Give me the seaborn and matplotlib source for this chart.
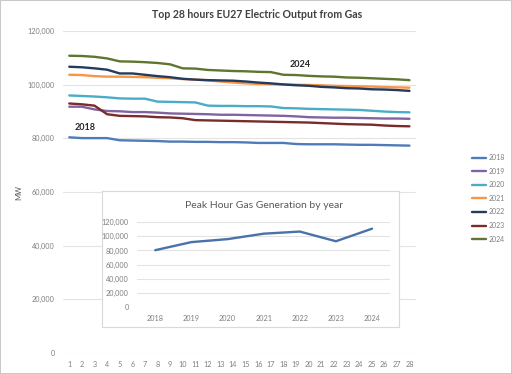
import pandas as pd
import matplotlib.pyplot as plt
import seaborn as sns

# hourly rank (top 28 hours) and output per year, MW
hours = list(range(1, 29))
years = ["2018", "2019", "2020", "2021", "2022", "2023", "2024"]

mw_2018 = [80400, 80100, 80100, 80100, 79300, 79200, 79100, 79000, 78800, 78800,
           78700, 78700, 78600, 78600, 78500, 78300, 78300, 78300, 77900, 77800,
           77800, 77800, 77700, 77600, 77600, 77500, 77400, 77300]
mw_2019 = [91800, 91800, 90800, 90200, 90100, 89800, 89800, 89600, 89300, 89200,
           89100, 89000, 88800, 88800, 88700, 88600, 88500, 88400, 88200, 87900,
           87800, 87700, 87700, 87600, 87500, 87400, 87400, 87300]
mw_2020 = [96000, 95800, 95600, 95300, 94900, 94800, 94800, 93700, 93600, 93500,
           93400, 92200, 92100, 92100, 92000, 92000, 91900, 91300, 91200, 91000,
           90900, 90800, 90700, 90600, 90300, 90000, 89800, 89700]
mw_2021 = [103700, 103600, 103200, 103000, 103000, 102900, 102800, 102600, 102400, 102100,
           101900, 101600, 101200, 100800, 100500, 100300, 100200, 100100, 100000, 99900,
           99800, 99600, 99500, 99400, 99300, 99100, 99000, 98900]
mw_2022 = [106700, 106500, 106100, 105600, 104200, 104200, 103700, 103200, 102800, 102200,
           101900, 101700, 101600, 101500, 101200, 100800, 100500, 100100, 99800, 99600,
           99200, 99000, 98700, 98600, 98300, 98200, 98000, 97700]
mw_2023 = [93000, 92700, 92200, 89000, 88400, 88300, 88200, 87900, 87800, 87500,
           86800, 86700, 86600, 86500, 86400, 86300, 86200, 86100, 86000, 85900,
           85700, 85500, 85300, 85200, 85100, 84800, 84600, 84500]
mw_2024 = [110800, 110700, 110400, 109800, 108700, 108600, 108400, 108100, 107600, 106100,
           106000, 105500, 105300, 105100, 105000, 104800, 104700, 103700, 103600, 103300,
           103100, 103000, 102700, 102600, 102400, 102200, 102000, 101700]

# peak hour by year (inset)
peak_years = years
peak_mw = [80400, 91800, 96000, 103700, 106700, 93000, 110800]

colors = ["#4f7bb8", "#8064a2", "#4bacc6", "#f79646", "#243a5e", "#7a2b2b", "#5f7530"]

series = [mw_2018, mw_2019, mw_2020, mw_2021, mw_2022, mw_2023, mw_2024]
df = pd.concat([pd.DataFrame({"hour": hours, "MW": vals, "year": y})
                for y, vals in zip(years, series)])

sns.set_style("white")
plt.rcParams["font.family"] = ["Lato", "DejaVu Sans"]

grey = "#7f7f7f"
fig = plt.figure(figsize=(5.12, 3.74), dpi=100)
fig.patch.set_edgecolor("#c8c8c8")
fig.patch.set_linewidth(1.2)

ax = fig.add_axes([0.123, 0.056, 0.689, 0.861])
sns.lineplot(data=df, x="hour", y="MW", hue="year", palette=colors,
             linewidth=1.7, ax=ax, legend=False)
ax.set_xlim(0.5, 28.5)
ax.set_ylim(0, 120000)
ax.set_xticks(hours)
ax.set_yticks(range(0, 120001, 20000))
ax.set_yticklabels([f"{v:,}" for v in range(0, 120001, 20000)])
ax.grid(axis="y", color="#e3e3e3", linewidth=0.8)
ax.set_axisbelow(True)
for s in ax.spines.values():
    s.set_visible(False)
ax.tick_params(axis="both", labelsize=5.2, colors=grey, length=0, pad=6)
ax.set_xlabel("")
ax.set_ylabel("MW", fontsize=5.5, color="#595959", labelpad=4)
fig.text(0.502, 0.962, "Top 28 hours EU27 Electric Output from Gas", fontsize=7.6,
         fontweight="bold", color="#404040", ha="center", va="center")
ax.text(2.25, 84000, "2018", fontsize=6.5, fontweight="bold", color="#262626",
        ha="center", va="center")
ax.text(19.3, 107400, "2024", fontsize=6.5, fontweight="bold", color="#262626",
        ha="center", va="center")

# legend on the right
handles = [plt.Line2D([], [], color=c, linewidth=1.7) for c in colors]
leg = fig.legend(handles, years, loc="upper left", bbox_to_anchor=(0.91, 0.605),
                 frameon=False, fontsize=5, handlelength=2.0, handletextpad=0.3,
                 labelspacing=0.95)
for t in leg.get_texts():
    t.set_color(grey)

# inset box
box = fig.add_axes([0.199, 0.126, 0.58, 0.363])
box.set_xticks([])
box.set_yticks([])
box.set_facecolor("white")
for s in box.spines.values():
    s.set_color("#d9d9d9")
    s.set_linewidth(0.8)

inset = fig.add_axes([0.268, 0.179, 0.494, 0.227])
inset.patch.set_alpha(0)
sns.lineplot(x=peak_years, y=peak_mw, color="#4a72a8", linewidth=1.7, ax=inset)
inset.set_xlim(-0.5, 6.5)
inset.set_ylim(0, 120000)
inset.set_yticks(range(0, 120001, 20000))
inset.set_yticklabels([f"{v:,}" for v in range(0, 120001, 20000)])
inset.grid(axis="y", color="#e3e3e3", linewidth=0.8)
inset.set_axisbelow(True)
for s in inset.spines.values():
    s.set_visible(False)
inset.tick_params(axis="both", labelsize=5.2, colors=grey, length=0, pad=6)
inset.set_title("Peak Hour Gas Generation by year", fontsize=7.5,
                color="#595959", pad=10)

fig.savefig("out.png", dpi=100)
